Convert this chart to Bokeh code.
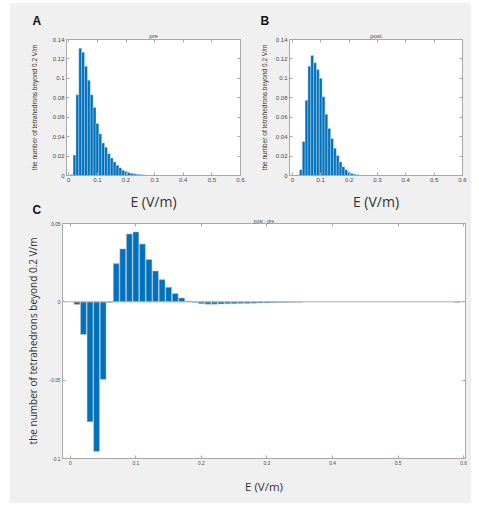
from bokeh.plotting import figure
from bokeh.layouts import column, row
from bokeh.models import FixedTicker, Span, Range1d, Title, LinearAxis
from bokeh.embed import file_html
from bokeh.resources import INLINE

# ---------------- data ----------------
pre_bins = [0.01, 0.02, 0.03, 0.04, 0.05, 0.06, 0.07, 0.08, 0.09, 0.10,
            0.11, 0.12, 0.13, 0.14, 0.15, 0.16, 0.17, 0.18, 0.19, 0.20,
            0.21, 0.22, 0.23, 0.24, 0.25, 0.26, 0.27, 0.28, 0.29, 0.30,
            0.31, 0.32]
pre_vals = [0.0010, 0.0210, 0.0830, 0.1310, 0.1270, 0.1125, 0.0980, 0.0830, 0.0700, 0.0535,
            0.0430, 0.0335, 0.0290, 0.0225, 0.0180, 0.0140, 0.0105, 0.0080, 0.0055, 0.0042,
            0.0030, 0.0022, 0.0017, 0.0013, 0.0010, 0.0008, 0.0006, 0.0005, 0.0004, 0.0003,
            0.0002, 0.0001]

post_bins = [0.02, 0.03, 0.04, 0.05, 0.06, 0.07, 0.08, 0.09, 0.10,
             0.11, 0.12, 0.13, 0.14, 0.15, 0.16, 0.17, 0.18, 0.19, 0.20,
             0.21, 0.22, 0.23, 0.24, 0.25]
post_vals = [0.0003, 0.0060, 0.0350, 0.0775, 0.1125, 0.1235, 0.1160, 0.1090, 0.1000,
             0.0810, 0.0630, 0.0485, 0.0380, 0.0280, 0.0205, 0.0140, 0.0090, 0.0058, 0.0034,
             0.0020, 0.0012, 0.0007, 0.0004, 0.0002]

diff_bins = [0.01, 0.02, 0.03, 0.04, 0.05, 0.06, 0.07, 0.08, 0.09, 0.10,
             0.11, 0.12, 0.13, 0.14, 0.15, 0.16, 0.17, 0.18, 0.19, 0.20,
             0.21, 0.22, 0.23, 0.24, 0.25, 0.26, 0.27, 0.28, 0.29, 0.30,
             0.31, 0.32, 0.33, 0.34, 0.35, 0.59]
diff_vals = [-0.0017, -0.0208, -0.0766, -0.0955, -0.0495, -0.0005, 0.0244, 0.0338, 0.0433, 0.0446,
             0.0369, 0.0270, 0.0197, 0.0142, 0.0093, 0.0053, 0.0025, 0.0006, -0.0005, -0.0012,
             -0.0015, -0.0015, -0.0014, -0.0013, -0.0012, -0.0011, -0.0010, -0.0009, -0.0008, -0.0007,
             -0.0006, -0.0005, -0.0004, -0.0003, -0.0002, -0.0003]

x_ticks = [0, 0.1, 0.2, 0.3, 0.4, 0.5, 0.6]
x_tick_labels = ["0", "0.1", "0.2", "0.3", "0.4", "0.5", "0.6"]
y_ticks_ab = [0, 0.02, 0.04, 0.06, 0.08, 0.1, 0.12, 0.14]
y_tick_labels_ab = ["0", "0.02", "0.04", "0.06", "0.08", "0.1", "0.12", "0.14"]
y_ticks_c = [-0.1, -0.05, 0, 0.05]
y_tick_labels_c = ["-0.1", "-0.05", "0", "0.05"]

ylab = "the number of tetrahedrons beyond 0.2 V/m"
xlab = "E (V/m)"

BG = "#f0f0f0"
BAR = "#0072BD"
AX = "#a8a8a8"
TXT = "#4a4a4a"
SMALL_FONT = "Liberation Sans"
BIG_FONT = "Open Sans"


def style_axes(p, xt, xl, yt, yl, tick_size, ylabel_size, ylabel_font, ylabel_standoff,
               xlabel_size, xlabel_standoff):
    p.xaxis.ticker = FixedTicker(ticks=xt)
    p.xaxis.major_label_overrides = dict(zip(xt, xl))
    p.yaxis.ticker = FixedTicker(ticks=yt)
    p.yaxis.major_label_overrides = dict(zip(yt, yl))
    for ax in (p.xaxis, p.yaxis):
        ax.axis_line_color = AX
        ax.major_tick_line_color = AX
        ax.major_tick_in = 3
        ax.major_tick_out = 0
        ax.minor_tick_line_color = None
        ax.major_label_text_font = SMALL_FONT
        ax.major_label_text_font_size = tick_size
        ax.major_label_text_color = TXT
        ax.major_label_standoff = 2
        ax.axis_label_text_font_style = "normal"
        ax.axis_label_text_color = "#333333"
    p.yaxis.axis_label = ylab
    p.yaxis.axis_label_text_font = ylabel_font
    p.yaxis.axis_label_text_font_size = ylabel_size
    p.yaxis.axis_label_standoff = ylabel_standoff
    p.xaxis.axis_label = xlab
    p.xaxis.axis_label_text_font = BIG_FONT
    p.xaxis.axis_label_text_font_size = xlabel_size
    p.xaxis.axis_label_standoff = xlabel_standoff
    p.xgrid.grid_line_color = None
    p.ygrid.grid_line_color = None
    p.outline_line_color = AX
    # box ticks on the top and right edges (no labels)
    for side, t in (("above", xt), ("right", yt)):
        ax = LinearAxis(ticker=FixedTicker(ticks=t), axis_line_color=AX,
                        major_tick_line_color=AX, major_tick_in=3, major_tick_out=0,
                        minor_tick_line_color=None, major_label_text_font_size="0px",
                        major_label_standoff=0, major_label_text_alpha=0)
        p.add_layout(ax, side)


def titles(p, letter_txt, letter_offset, letter_standoff, sub_txt, sub_size, sub_standoff):
    # outer title: panel letter
    p.title.text = letter_txt
    p.title.align = "left"
    p.title.offset = letter_offset
    p.title.text_font = SMALL_FONT
    p.title.text_font_style = "bold"
    p.title.text_font_size = "12px"
    p.title.text_color = "#111111"
    p.title.standoff = letter_standoff
    # inner title: subplot name
    p.add_layout(Title(text=sub_txt, align="center", text_font=SMALL_FONT,
                       text_font_style="normal", text_font_size=sub_size,
                       text_color=TXT, standoff=sub_standoff), "above")


# ---------------- panel A ----------------
pA = figure(width=238, height=210, x_range=Range1d(-0.008, 0.6), y_range=Range1d(0, 0.14),
            output_backend="svg", toolbar_location=None,
            min_border_left=56, min_border_right=8, min_border_top=36, min_border_bottom=35,
            background_fill_color="white", border_fill_color=BG)
pA.vbar(x=pre_bins, top=pre_vals, width=0.01, bottom=0, fill_color=BAR,
        line_color="#e6ecf2", line_alpha=0.7, line_width=0.5)
style_axes(pA, x_ticks, x_tick_labels, y_ticks_ab, y_tick_labels_ab, "6px", "6.5px", SMALL_FONT, 12,
           "14px", 7)
titles(pA, "A", -34, 6, "pre", "6px", 1)

# ---------------- panel B ----------------
pB = figure(width=223, height=210, x_range=Range1d(-0.01, 0.6), y_range=Range1d(0, 0.14),
            output_backend="svg", toolbar_location=None,
            min_border_left=41, min_border_right=9, min_border_top=36, min_border_bottom=36,
            background_fill_color="white", border_fill_color=BG)
pB.vbar(x=post_bins, top=post_vals, width=0.01, bottom=0, fill_color=BAR,
        line_color="#e6ecf2", line_alpha=0.7, line_width=0.5)
style_axes(pB, x_ticks, x_tick_labels, y_ticks_ab, y_tick_labels_ab, "6px", "6.5px", SMALL_FONT, 5,
           "14px", 7)
titles(pB, "B", -29, 6, "post", "6px", 1)

# ---------------- panel C ----------------
# starts a little higher (negative margin) with a transparent border so that the
# panel letter "C" can sit beside the x-axis label of panel A
pC = figure(width=461, height=304, x_range=Range1d(-0.012, 0.603), y_range=Range1d(-0.1, 0.05),
            output_backend="svg", toolbar_location=None,
            min_border_left=52, min_border_right=6, min_border_top=24, min_border_bottom=45,
            background_fill_color="white", border_fill_color=None, margin=(-14, 0, 0, 0))
pC.add_layout(Span(location=0, dimension="width", line_color="#b0b0b0", line_width=1))
pC.vbar(x=diff_bins, top=diff_vals, width=0.009, bottom=0, fill_color=BAR,
        line_color="#c8c8c8", line_width=0.5)
style_axes(pC, x_ticks, x_tick_labels, y_ticks_c, y_tick_labels_c, "4.8px", "10px", BIG_FONT, 7,
           "11.5px", 11)
titles(pC, "C", -30, 0, "post - pre", "4.8px", 0)

top_row = row(pA, pB, spacing=0, styles={"background-color": BG})
layout = column(top_row, pC, spacing=0, margin=(3, 0, 0, 10), styles={"background-color": BG})
open("out.html", "w").write(file_html(layout, INLINE))
